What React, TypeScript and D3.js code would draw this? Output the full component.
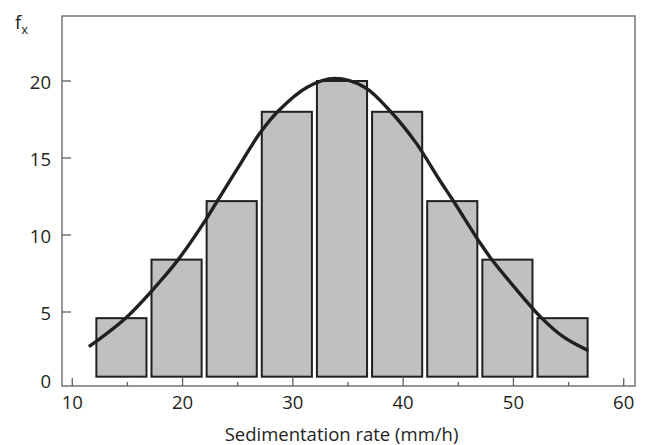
import React from "react";
import * as d3 from "d3";

const binStarts = [12, 17, 22, 27, 32, 37, 42, 47, 52];
const binWidth = 5;
const frequencies = [4.6, 8.4, 12.2, 18.0, 20.0, 18.0, 12.2, 8.4, 4.6];
const barBase = 0.8;

const curveX = [11.5, 14.9, 18.1, 19.6, 22.2, 23.2, 25.4, 27.0, 28.7, 31.3, 33.8, 36.5, 38.8, 41.2, 43.3, 44.5, 47.0, 48.0, 49.4, 52.5, 54.5, 56.8];
const curveY = [2.75, 4.65, 7.1, 8.4, 11.1, 12.27, 14.8, 16.6, 18.07, 19.6, 20.17, 19.6, 18.07, 15.95, 13.57, 12.27, 9.46, 8.44, 7.2, 4.65, 3.4, 2.49];

const xTicksMajor = [10, 20, 30, 40, 50, 60];
const xTicksMinor = [15, 25, 35, 45, 55];
const yTicks = [5, 10, 15, 20];
const yTickLabels = ["0", "5", "10", "15", "20"];
const yTickLabelValues = [0, 5, 10, 15, 20];

const xTitle = "Sedimentation rate (mm/h)";

export default function App() {
  const W = 645, H = 445;
  const frame = { left: 62, top: 16, right: 635, bottom: 386 };
  const x = d3.scaleLinear().domain([10, 60]).range([72.3, 623.7]);
  const y = d3.scaleLinear().domain([0, 20]).range([389, 81]);
  const axisColor = "#5f5f5f";
  const font = "'Open Sans', 'Noto Sans', sans-serif";

  const line = d3
    .line<number>()
    .x((_, i) => x(curveX[i]))
    .y((d) => y(d))
    .curve(d3.curveCatmullRom.alpha(0.5));

  return (
    <svg
      width={W}
      height={H}
      style={{ position: "absolute", left: 0, top: 0, background: "#fff" }}
      fontFamily={font}
    >
      {/* bars */}
      {binStarts.map((b, i) => {
        const x0 = x(b) + 2;
        const x1 = x(b + binWidth) - 3;
        const yt = y(frequencies[i]);
        const yb = y(barBase);
        return (
          <rect
            key={i}
            x={x0}
            y={yt}
            width={x1 - x0}
            height={yb - yt}
            fill="#bfc0c2"
            stroke="#231f20"
            strokeWidth={2}
          />
        );
      })}
      {/* curve */}
      <path d={line(curveY) || ""} fill="none" stroke="#231f20" strokeWidth={3.4} strokeLinecap="butt" />

      {/* frame */}
      <rect
        x={frame.left}
        y={frame.top}
        width={frame.right - frame.left}
        height={frame.bottom - frame.top}
        fill="none"
        stroke={axisColor}
        strokeWidth={1.3}
      />
      {/* y ticks */}
      {yTicks.map((t) => (
        <line key={t} x1={frame.left} x2={frame.left + 9} y1={y(t)} y2={y(t)} stroke={axisColor} strokeWidth={1.3} />
      ))}
      {yTickLabels.map((lab, i) => (
        <text
          key={lab}
          x={51}
          y={y(yTickLabelValues[i]) + (yTickLabelValues[i] === 0 ? -9 : 0)}
          textAnchor="end"
          dominantBaseline="central"
          fontSize={18.5}
          fill="#231f20"
        >
          {lab}
        </text>
      ))}
      {/* x ticks */}
      {xTicksMajor.map((t) => (
        <line key={t} x1={x(t)} x2={x(t)} y1={frame.bottom} y2={frame.bottom - 8} stroke={axisColor} strokeWidth={1.3} />
      ))}
      {xTicksMinor.map((t) => (
        <line key={t} x1={x(t)} x2={x(t)} y1={frame.bottom} y2={frame.bottom - 4} stroke={axisColor} strokeWidth={1.3} />
      ))}
      {xTicksMajor.map((t) => (
        <text key={t} x={x(t)} y={401} textAnchor="middle" dominantBaseline="central" fontSize={18.5} fill="#231f20">
          {t}
        </text>
      ))}
      {/* axis title */}
      <text x={341.5} y={433} textAnchor="middle" dominantBaseline="central" fontSize={18.5} fill="#231f20">
        {xTitle}
      </text>
      {/* y label f_x */}
      <text x={15} y={29} fontSize={18.5} fill="#231f20">
        f
        <tspan fontSize={13} dy={5}>x</tspan>
      </text>
    </svg>
  );
}
